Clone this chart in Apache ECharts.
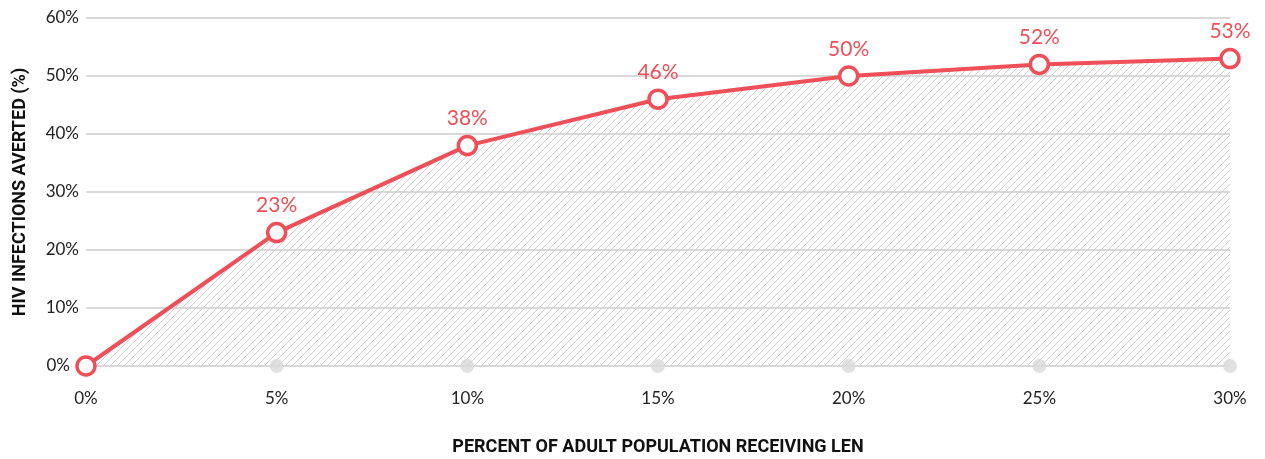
<!DOCTYPE html>
<html>
<head>
<meta charset="utf-8">
<script src="https://cdn.jsdelivr.net/npm/echarts@6/dist/echarts.min.js"></script>
<style>
  html, body { margin: 0; padding: 0; background: #fff; }
  #chart { width: 1265px; height: 459px; }
</style>
</head>
<body>
<div id="chart"></div>
<script>
// Share of adults receiving lenacapavir vs. share of HIV infections averted
const coverage = ['0%', '5%', '10%', '15%', '20%', '25%', '30%'];
const averted = [0, 23, 38, 46, 50, 52, 53];
const baseline = [0, 0, 0, 0, 0, 0, 0];
const yTicks = [0, 10, 20, 30, 40, 50, 60];

const RED = '#ee4f58';
const GREY = '#d9d9d9';

// Diagonal hatch pattern for the area under the curve
function hatchPattern() {
  const s = 7;
  const c = document.createElement('canvas');
  c.width = s; c.height = s;
  const g = c.getContext('2d');
  g.strokeStyle = '#d2d2d2';
  g.lineWidth = 1;
  g.beginPath();
  g.moveTo(0, s); g.lineTo(s, 0);
  g.moveTo(-1, 1); g.lineTo(1, -1);
  g.moveTo(s - 1, s + 1); g.lineTo(s + 1, s - 1);
  g.stroke();
  return c;
}

const tickFont = { fontFamily: 'Lato', fontSize: 17, color: '#222' };

const chart = echarts.init(document.getElementById('chart'));
chart.setOption({
  animation: false,
  grid: { left: 86, right: 35, top: 18, bottom: 93, outerBoundsMode: 'none' },
  xAxis: {
    type: 'category',
    data: coverage,
    boundaryGap: false,
    name: 'PERCENT OF ADULT POPULATION RECEIVING LEN',
    nameLocation: 'middle',
    nameGap: 72,
    nameTextStyle: { fontFamily: 'Roboto', fontWeight: 'bold', fontSize: 18, color: '#111' },
    axisLine: { show: false },
    axisTick: { show: false },
    axisLabel: Object.assign({ margin: 24 }, tickFont)
  },
  yAxis: {
    type: 'value',
    min: yTicks[0],
    max: yTicks[yTicks.length - 1],
    interval: 10,
    name: 'HIV INFECTIONS AVERTED (%)',
    nameLocation: 'middle',
    nameGap: 57,
    nameTextStyle: { fontFamily: 'Roboto', fontWeight: 'bold', fontSize: 18, color: '#111' },
    axisLine: { show: false },
    axisTick: { show: false },
    axisLabel: Object.assign({
      margin: 7,
      // the zero label steps back to clear the first point's marker
      formatter: v => v === 0 ? '{zero|0%}' : v + '%',
      rich: { zero: Object.assign({ padding: [0, 9, 0, 0] }, tickFont) }
    }, tickFont),
    splitLine: { lineStyle: { color: GREY, width: 2 } }
  },
  series: [
    {
      type: 'scatter',
      data: baseline,
      symbol: 'circle',
      symbolSize: 14,
      itemStyle: { color: GREY },
      z: 1,
      silent: true
    },
    {
      type: 'line',
      data: averted,
      symbol: 'circle',
      symbolSize: 18,
      lineStyle: { color: RED, width: 4 },
      itemStyle: { color: '#fff', borderColor: RED, borderWidth: 3.5 },
      areaStyle: { color: { image: hatchPattern(), repeat: 'repeat' }, opacity: 1 },
      label: {
        show: true,
        position: 'top',
        distance: 6,
        fontFamily: 'Lato',
        fontSize: 21,
        color: RED,
        formatter: p => p.dataIndex === 0 ? '' : p.value + '%'
      },
      z: 3
    }
  ]
});
</script>
</body>
</html>
